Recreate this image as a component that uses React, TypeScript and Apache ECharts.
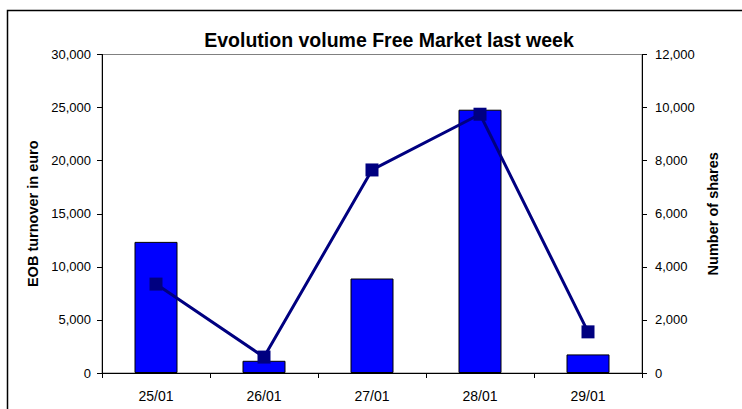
import React, { useEffect, useRef } from "react";
import * as echarts from "echarts";

const categories = ["25/01", "26/01", "27/01", "28/01", "29/01"];
const turnover = [12350, 1150, 8900, 24800, 1750];
const shares = [3350, 600, 7650, 9750, 1550];
const leftTicks = { min: 0, max: 30000, interval: 5000 };
const rightTicks = { min: 0, max: 12000, interval: 2000 };

const FONT = "'Liberation Sans', Arial, sans-serif";
const fmt = (v: number) => v.toLocaleString("en-US");

export default function App() {
  const ref = useRef<HTMLDivElement>(null);
  useEffect(() => {
    document.body.style.margin = "0";
    const chart = echarts.init(ref.current!, null, { renderer: "svg" });
    chart.setOption({
      animation: false,
      backgroundColor: "#ffffff",
      textStyle: { fontFamily: FONT },
      title: {
        text: "Evolution volume Free Market last week",
        left: 384,
        top: 25,
        textAlign: "center",
        textStyle: { fontFamily: FONT, fontSize: 19.5, fontWeight: "bold", color: "#000" },
      },
      graphic: [
        {
          type: "rect",
          shape: { x: 7.5, y: 10.5, width: 800, height: 500 },
          style: { fill: "none", stroke: "#000", lineWidth: 1.5 },
          silent: true,
        },
      ],
      grid: {
        left: 102,
        right: 100,
        top: 54.5,
        bottom: 36,
        show: true,
        borderColor: "#808080",
        borderWidth: 1,
      },
      xAxis: {
        type: "category",
        data: categories,
        boundaryGap: true,
        axisLine: { lineStyle: { color: "#000", width: 1 } },
        axisTick: { show: true, alignWithLabel: false, length: 5, lineStyle: { color: "#000" } },
        axisLabel: { color: "#000", fontSize: 14, fontFamily: FONT, margin: 16 },
        splitLine: { show: false },
      },
      yAxis: [
        {
          type: "value",
          min: leftTicks.min,
          max: leftTicks.max,
          interval: leftTicks.interval,
          name: "EOB turnover in euro",
          nameLocation: "middle",
          nameGap: 57,
          nameTextStyle: { fontFamily: FONT, fontSize: 14.5, fontWeight: "bold", color: "#000" },
          axisLine: { show: true, lineStyle: { color: "#000", width: 1 } },
          axisTick: { show: true, length: 5, lineStyle: { color: "#000" } },
          axisLabel: { color: "#000", fontSize: 13, fontFamily: FONT, margin: 11, formatter: fmt },
          splitLine: { show: false },
        },
        {
          type: "value",
          min: rightTicks.min,
          max: rightTicks.max,
          interval: rightTicks.interval,
          name: "Number of shares",
          nameLocation: "middle",
          nameGap: 51,
          nameRotate: 90,
          nameTextStyle: { fontFamily: FONT, fontSize: 14.5, fontWeight: "bold", color: "#000" },
          axisLine: { show: true, lineStyle: { color: "#000", width: 1 } },
          axisTick: { show: true, length: 5, lineStyle: { color: "#000" } },
          axisLabel: { color: "#000", fontSize: 13, fontFamily: FONT, margin: 13, formatter: fmt },
          splitLine: { show: false },
        },
      ],
      series: [
        {
          name: "EOB turnover in euro",
          type: "bar",
          yAxisIndex: 0,
          data: turnover,
          barWidth: 43,
          itemStyle: { color: "#0000FF", borderColor: "#000", borderWidth: 1 },
        },
        {
          name: "Number of shares",
          type: "line",
          yAxisIndex: 1,
          data: shares,
          symbol: "rect",
          symbolSize: 13,
          lineStyle: { color: "#000080", width: 3 },
          itemStyle: { color: "#000080" },
        },
      ],
    });
    return () => chart.dispose();
  }, []);
  return <div ref={ref} style={{ width: 742, height: 409 }} />;
}
